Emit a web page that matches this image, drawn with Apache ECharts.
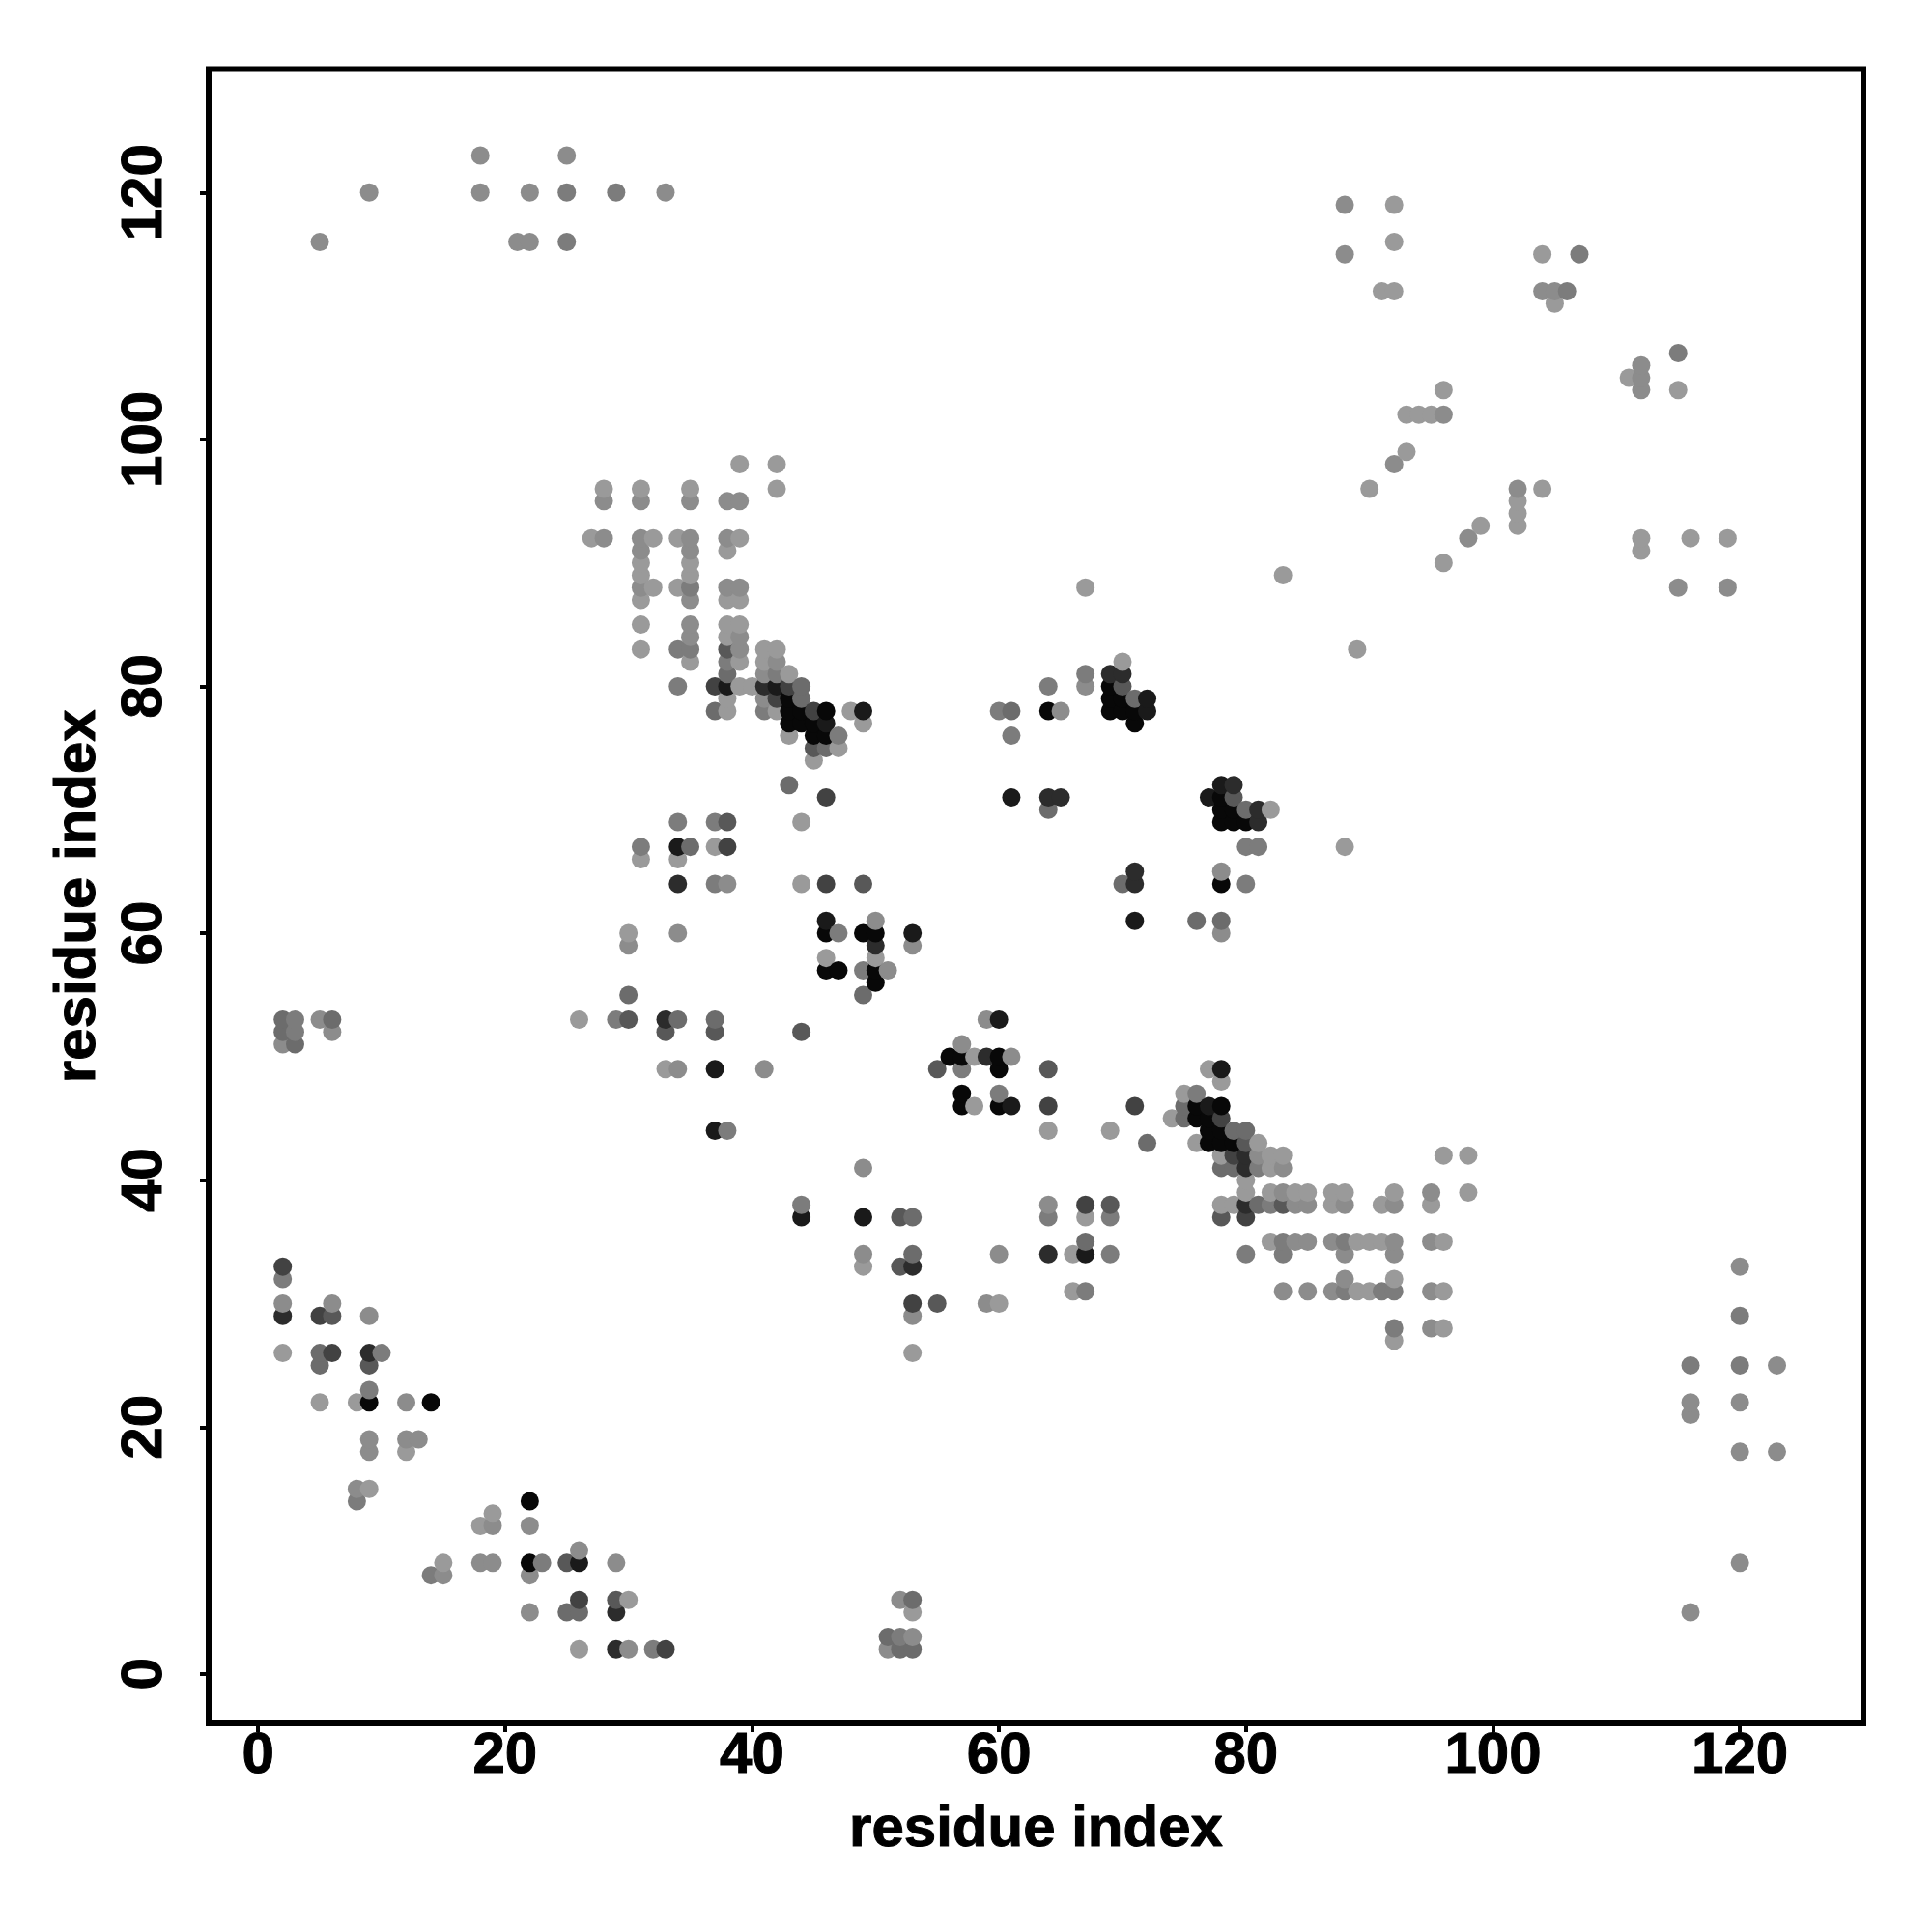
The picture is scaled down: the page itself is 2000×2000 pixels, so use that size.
<!DOCTYPE html>
<html>
<head>
<meta charset="utf-8">
<style>html,body{margin:0;padding:0;background:#fff}#chart{width:2000px;height:2000px}</style>
<script src="https://cdn.jsdelivr.net/npm/echarts@6/dist/echarts.min.js"></script>
</head>
<body>
<div id="chart"></div>
<script>
const tickValues = [0, 20, 40, 60, 80, 100, 120];
const axisName = 'residue index';

const grey08 = [[43,79],[43,78],[44,78],[46,78],[43,77],[44,77],[45,77],[45,76],[46,76],[69,80],[69,79],[70,79],[64,78],[69,78],[70,78],[71,78],[71,77],[78,71],[78,70],[79,70],[78,69],[79,69],[80,69],[78,64],[46,60],[49,60],[50,60],[46,57],[47,57],[50,57],[50,56],[56,50],[57,50],[60,50],[60,49],[57,47],[57,46],[60,46],[76,46],[78,46],[76,45],[77,45],[77,44],[78,44],[77,43],[78,43],[79,43],[9,22],[14,22],[22,14],[22,9]];
const grey1a = [[38,80],[42,80],[49,78],[46,77],[72,79],[72,78],[78,72],[61,71],[77,71],[34,67],[46,61],[71,61],[53,60],[60,53],[37,49],[78,49],[61,46],[77,46],[37,44],[44,37],[49,37],[67,34],[26,9]];
const grey2c = [[41,80],[69,81],[70,81],[79,72],[64,71],[65,71],[81,70],[81,69],[71,65],[71,64],[34,64],[50,59],[33,53],[59,50],[80,42],[80,41],[80,38],[64,34],[53,33],[2,29],[9,26],[29,5],[29,2]];
const grey42 = [[37,80],[43,80],[42,79],[45,78],[46,71],[38,67],[46,64],[64,46],[71,46],[78,45],[79,42],[67,38],[80,37],[2,33],[53,30],[5,29],[6,26],[26,6],[33,2]];
const grey58 = [[45,75],[70,80],[79,71],[38,83],[38,69],[49,64],[30,53],[33,52],[37,52],[44,52],[55,49],[64,49],[80,43],[69,38],[83,38],[78,37],[52,37],[52,33],[55,30],[6,29],[9,25],[25,9],[29,6]];
const grey6c = [[38,81],[44,80],[44,79],[37,78],[46,75],[43,72],[71,79],[61,78],[64,70],[80,70],[70,64],[35,67],[76,61],[78,61],[30,55],[49,55],[34,53],[37,53],[75,46],[75,45],[79,44],[80,44],[72,43],[78,41],[79,41],[81,38],[67,35],[53,37],[53,34],[5,26],[5,25],[25,5],[26,5],[2,53],[2,52],[3,51],[6,53],[51,3],[52,2],[53,2],[53,6]];
const grey7c = [[35,88],[34,83],[35,83],[38,82],[42,81],[34,80],[41,78],[47,76],[67,81],[64,80],[60,78],[61,76],[80,67],[81,67],[80,64],[34,69],[37,69],[31,67],[37,64],[47,60],[49,57],[29,53],[57,49],[60,47],[76,47],[38,44],[81,41],[82,38],[44,38],[64,37],[69,37],[83,35],[88,35],[69,34],[80,34],[83,34],[2,32],[67,31],[88,31],[91,31],[92,31],[92,28],[10,26],[9,23],[8,14],[23,9],[14,8],[32,2],[25,120],[29,120],[25,116],[107,115],[106,112],[115,107],[120,29],[116,25],[120,25],[3,53],[3,52],[52,3]];
const grey8c = [[28,95],[31,95],[35,95],[38,95],[39,95],[28,92],[31,92],[35,92],[38,92],[31,91],[35,91],[31,88],[38,88],[39,88],[35,87],[35,85],[35,84],[39,84],[39,83],[42,82],[41,81],[41,79],[65,78],[67,80],[78,65],[38,64],[50,61],[34,60],[78,60],[30,59],[53,59],[51,57],[59,53],[57,51],[61,50],[34,49],[41,49],[81,42],[83,41],[49,41],[83,39],[95,39],[64,38],[84,38],[85,38],[88,38],[92,38],[84,35],[85,35],[87,35],[92,35],[95,35],[49,34],[60,34],[88,34],[92,34],[88,32],[83,31],[85,31],[87,31],[95,31],[120,33],[2,30],[6,30],[59,30],[9,29],[53,29],[95,28],[12,22],[120,22],[116,22],[116,21],[9,19],[12,19],[13,19],[9,18],[120,18],[123,18],[8,15],[19,12],[22,12],[26,10],[18,9],[19,9],[29,9],[120,9],[15,8],[22,8],[22,5],[116,5],[30,2],[51,2],[53,3],[52,6],[2,51],[5,53],[6,52],[18,123],[25,123],[9,120],[18,120],[22,120],[33,120],[5,116],[21,116],[22,116],[88,119],[88,115],[104,112],[105,112],[112,106],[112,105],[112,104],[96,102],[92,98],[102,96],[98,92],[115,88],[119,88],[123,25]];
const grey9a = [[39,98],[42,98],[28,96],[31,96],[35,96],[42,96],[27,92],[32,92],[34,92],[39,92],[38,91],[31,90],[35,90],[31,89],[35,89],[32,88],[34,88],[31,87],[38,87],[39,87],[31,85],[38,85],[39,85],[38,84],[31,83],[41,83],[42,83],[35,82],[39,82],[41,82],[43,81],[39,80],[40,80],[38,79],[38,78],[42,78],[48,78],[49,77],[43,76],[47,75],[45,74],[70,82],[82,70],[44,69],[37,67],[31,66],[34,66],[44,64],[30,60],[46,58],[50,58],[26,53],[58,50],[33,49],[77,49],[78,48],[75,47],[58,46],[74,45],[64,44],[69,44],[76,43],[81,43],[78,42],[82,42],[83,42],[96,42],[98,42],[82,41],[80,40],[80,39],[82,39],[84,39],[85,39],[87,39],[88,39],[92,39],[98,39],[78,38],[79,38],[87,38],[91,38],[95,38],[67,37],[82,35],[89,35],[90,35],[91,35],[96,35],[66,34],[49,33],[92,32],[66,31],[89,31],[90,31],[96,31],[60,30],[96,28],[92,27],[2,26],[53,26],[5,22],[8,22],[12,18],[9,15],[19,13],[18,12],[15,9],[30,6],[53,5],[26,2],[92,119],[92,116],[91,112],[92,112],[104,115],[105,111],[111,105],[115,104],[96,104],[93,102],[94,102],[95,102],[93,99],[90,96],[104,96],[102,95],[102,94],[102,93],[99,93],[96,90],[112,92],[112,91],[116,92],[119,92],[83,89],[67,88],[89,83],[88,67]];

const shadeGroups = [
  ['#080808', grey08], ['#1a1a1a', grey1a], ['#2c2c2c', grey2c],
  ['#424242', grey42], ['#585858', grey58], ['#6c6c6c', grey6c],
  ['#7c7c7c', grey7c], ['#8c8c8c', grey8c], ['#9a9a9a', grey9a]
];
const points = [];
shadeGroups.forEach(([color, list]) => list.forEach(p => points.push({value: p, itemStyle: {color, opacity: 1}})));
points.sort((a, b) => a.value[0] - b.value[0] || a.value[1] - b.value[1]);

const FONT = '"Liberation Sans", Arial, sans-serif';
const textStyle = {fontFamily: FONT, fontWeight: 'bold', fontSize: 60, color: '#000', textBorderColor: '#000', textBorderWidth: 1};
function axis(extra) {
  return Object.assign({
    type: 'value', min: -4, max: 130,
    splitLine: {show: false},
    axisLine: {show: false, onZero: false},
    axisTick: {show: true, customValues: tickValues, length: 9, inside: false, lineStyle: {color: '#000', width: 4}},
    name: axisName, nameLocation: 'middle',
    nameTextStyle: textStyle
  }, extra);
}
const chart = echarts.init(document.getElementById('chart'), null, {renderer: 'canvas'});
chart.setOption({
  animation: false,
  backgroundColor: '#fff',
  grid: {left: 216, top: 71.5, width: 1713, height: 1712.5, show: true, borderColor: '#000', borderWidth: 6, backgroundColor: 'transparent', containLabel: false},
  xAxis: axis({
    nameGap: 80,
    axisLabel: Object.assign({customValues: tickValues, margin: 4, showMinLabel: true, showMaxLabel: true}, textStyle)
  }),
  yAxis: axis({
    nameGap: 105, nameRotate: 90,
    axisLabel: Object.assign({customValues: tickValues, rotate: 90, margin: 36, showMinLabel: true, showMaxLabel: true}, textStyle)
  }),
  series: [{
    type: 'scatter', symbol: 'circle', symbolSize: 19, silent: true, clip: false,
    data: points
  }]
});
</script>
</body>
</html>
